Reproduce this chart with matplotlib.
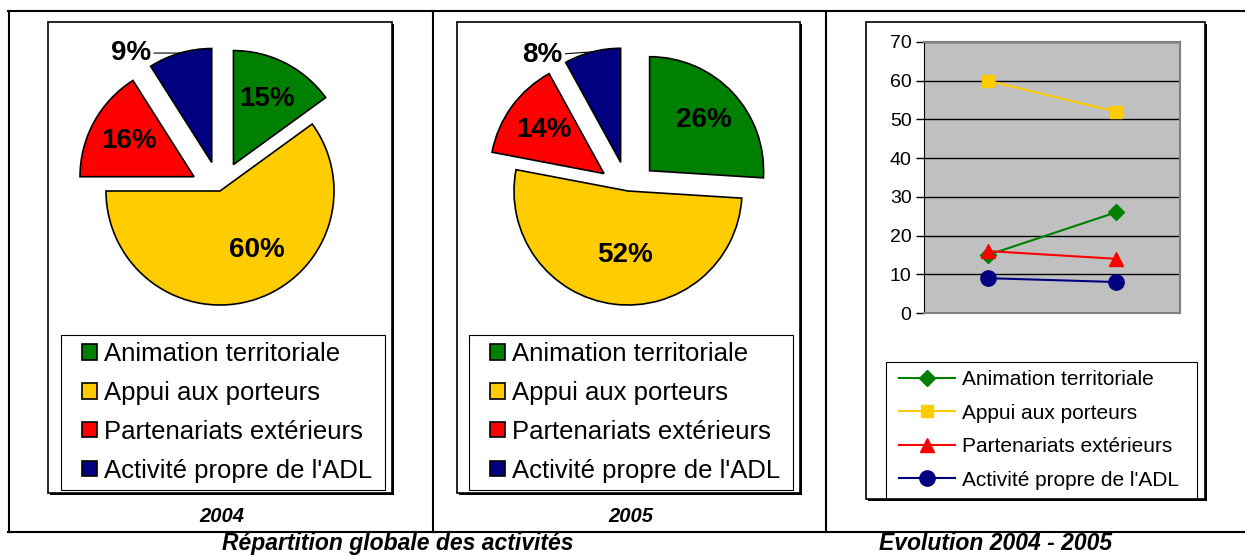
import numpy as np
import matplotlib
matplotlib.use("Agg")
import matplotlib.pyplot as plt
from matplotlib.patches import Rectangle
from matplotlib.lines import Line2D

plt.rcParams['font.family'] = ['Liberation Sans', 'DejaVu Sans']

categories = ['Animation territoriale', 'Appui aux porteurs',
              'Partenariats extérieurs', "Activité propre de l'ADL"]
colors = ['#008000', '#FFCC00', '#FF0000', '#000080']
years = ['2004', '2005']
share_2004 = [15, 60, 16, 9]
share_2005 = [26, 52, 14, 8]
markers = ['D', 's', '^', 'o']
marker_sizes = [8, 8, 10, 11]

W, H = 1245, 556
fig = plt.figure(figsize=(W / 100, H / 100), dpi=100)


def fx(x):
    return x / W


def fy(y):
    return 1 - y / H


def hline(x0, x1, y, lw=1.5):
    fig.add_artist(Line2D([fx(x0), fx(x1)], [fy(y), fy(y)], color='black', lw=lw))


def vline(x, y0, y1, lw=1.5):
    fig.add_artist(Line2D([fx(x), fx(x)], [fy(y0), fy(y1)], color='black', lw=lw))


def frame(x0, y0, x1, y1, lw=0.8, shadow=False):
    if shadow:
        fig.add_artist(Rectangle((fx(x0 + 2), fy(y1 + 2)), (x1 - x0) / W, (y1 - y0) / H,
                                 facecolor='black', edgecolor='none', zorder=-2))
    fig.add_artist(Rectangle((fx(x0), fy(y1)), (x1 - x0) / W, (y1 - y0) / H,
                             facecolor='white' if shadow else 'none', edgecolor='black',
                             lw=lw, zorder=-1 if shadow else 3))


# outer table
hline(8, 1245, 11)
hline(8, 1245, 532)
vline(9, 11, 532)
vline(433, 11, 532)
vline(826, 11, 532)

# chart frames and legend frames
frame(48, 22, 392, 493, lw=1.2, shadow=True)
frame(457, 22, 800, 493, lw=1.2, shadow=True)
frame(866, 22, 1205, 499, lw=1.2, shadow=True)
frame(61, 335, 385, 490)
frame(469, 335, 793, 490)
frame(886, 362, 1197, 499)


def draw_pie(values, cx, cy, big_pos, small_pos, legend_x, r=114, s=1.6):
    ax = fig.add_axes([fx(cx - r * s), fy(cy + r * s), 2 * r * s / W, 2 * r * s / H])
    explode = [0.26, 0, 0.26, 0.26]
    wedges, texts, autotexts = ax.pie(
        values, colors=colors, explode=explode, startangle=90, counterclock=False,
        autopct='%.0f%%', pctdistance=0.65,
        wedgeprops=dict(edgecolor='black', linewidth=1.2),
        textprops=dict(fontsize=20, fontweight='bold'))
    ax.set_xlim(-s, s)
    ax.set_ylim(-s, s)
    autotexts[1].set_position(big_pos)

    # smallest slice: label outside with a leader line
    w = wedges[3]
    mid = np.deg2rad((w.theta1 + w.theta2) / 2)
    tip = (w.center[0] + np.cos(mid), w.center[1] + np.sin(mid))
    autotexts[3].set_visible(False)
    ax.annotate(autotexts[3].get_text(), xy=tip, xytext=small_pos,
                ha='center', va='center', fontsize=20, fontweight='bold',
                arrowprops=dict(arrowstyle='-', lw=0.8, color='black',
                                shrinkA=0, shrinkB=0))

    ax.legend(wedges, categories, loc='upper left',
              bbox_to_anchor=(fx(legend_x), fy(342)), bbox_transform=fig.transFigure,
              fontsize=18.5, frameon=False, borderaxespad=0, borderpad=0,
              handlelength=0.6, handleheight=0.55, handletextpad=0.25,
              labelspacing=0.58)
    return ax


draw_pie(share_2004, 220, 191, (0.32, -0.52), (-0.78, 1.21), 82)
draw_pie(share_2005, 628, 191, (-0.03, -0.56), (-0.75, 1.19), 490)

# line chart
ax = fig.add_axes([fx(924), fy(313), (1180 - 924) / W, (313 - 42) / H])
ax.set_facecolor('#C0C0C0')
x = np.arange(len(years))
for i, name in enumerate(categories):
    ax.plot(x, [share_2004[i], share_2005[i]], color=colors[i], lw=1.5,
            marker=markers[i], ms=marker_sizes[i], label=name)
ax.set_xlim(-0.5, 1.5)
ax.set_ylim(0, 70)
ax.set_yticks(range(0, 71, 10))
ax.set_xticks([])
ax.yaxis.grid(True, color='black', lw=1)
ax.set_axisbelow(True)
ax.tick_params(axis='y', length=6, width=1, labelsize=14, pad=3)
for side in ['top', 'right', 'bottom']:
    ax.spines[side].set_color('#808080')
    ax.spines[side].set_linewidth(1.5)
ax.spines['left'].set_color('black')

fig.legend(loc='upper left', bbox_to_anchor=(fx(899), fy(370)), fontsize=15,
           frameon=False, borderaxespad=0, borderpad=0, handlelength=2.7,
           labelspacing=0.7, handletextpad=0.3)

# titles
for year, xc in zip(years, [222, 631]):
    fig.text(fx(xc), fy(517), year, ha='center', va='center', fontsize=14.5,
             fontweight='bold', fontstyle='italic')
fig.text(fx(398), fy(555), 'Répartition globale des activités', ha='center', va='bottom',
         fontsize=16.5, fontweight='bold', fontstyle='italic')
fig.text(fx(996), fy(555), 'Evolution 2004 - 2005', ha='center', va='bottom',
         fontsize=16.5, fontweight='bold', fontstyle='italic')

fig.savefig('out.png', dpi=100)
